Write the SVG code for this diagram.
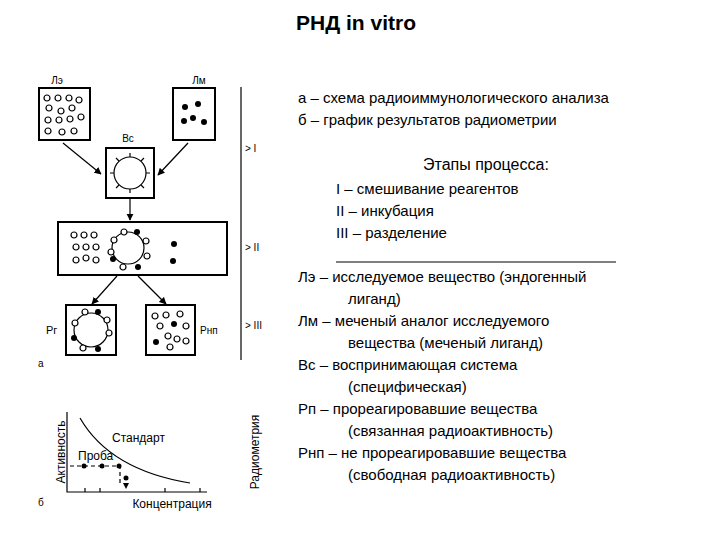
<svg xmlns="http://www.w3.org/2000/svg" width="720" height="540" viewBox="0 0 720 540">
<defs>
<style>
.t{font-family:"Liberation Sans",Arial,sans-serif;fill:#000}
.s{font-family:"Liberation Sans",Arial,sans-serif;font-size:10px;fill:#000}
.g{font-family:"Liberation Sans",Arial,sans-serif;font-size:12px;fill:#000}
.b{fill:#fff;stroke:#000;stroke-width:2}
.o{fill:#fff;stroke:#000;stroke-width:1.2}
.f{fill:#000}
.l{stroke:#000;stroke-width:1.2;fill:none}
</style>
<marker id="a" viewBox="0 0 10 10" refX="9" refY="5" markerWidth="6" markerHeight="6" orient="auto"><path d="M0,0L10,5L0,10z"/></marker>
<g id="o"><circle r="3" class="o"/></g>
<g id="d"><circle r="3" class="f"/></g>
</defs>
<rect width="720" height="540" fill="#fff"/>
<text class="t" x="356" y="30" font-size="21" font-weight="bold" text-anchor="middle">РНД in vitro</text>

<g id="le">
<text class="s" x="57" y="84" text-anchor="middle">Лэ</text>
<rect class="b" x="39" y="88" width="51" height="52"/>
<use href="#o" x="47" y="98"/><use href="#o" x="58" y="98"/><use href="#o" x="69" y="98"/><use href="#o" x="79" y="100"/>
<use href="#o" x="49" y="108"/><use href="#o" x="61" y="111"/><use href="#o" x="72" y="108"/>
<use href="#o" x="48" y="120"/><use href="#o" x="59" y="120"/><use href="#o" x="70" y="119"/><use href="#o" x="81" y="117"/>
<use href="#o" x="48" y="131"/><use href="#o" x="62" y="132"/><use href="#o" x="74" y="131"/>
</g>
<g id="lm">
<text class="s" x="199" y="84" text-anchor="middle">Лм</text>
<rect class="b" x="173" y="88" width="42" height="52"/>
<use href="#d" x="185" y="107"/><use href="#d" x="198" y="104"/><use href="#d" x="184" y="121"/><use href="#d" x="193" y="118"/><use href="#d" x="204" y="122"/>
</g>
<g id="vs">
<text class="s" x="128" y="142" text-anchor="middle">Вс</text>
<rect class="b" x="106" y="148" width="48" height="50"/>
<circle cx="130" cy="173" r="16" class="o"/>
<path class="l" d="M130,157v-4M130,189v4M114,173h-4M146,173h4M119,161l-3,-3M141,161l3,-3M119,185l-3,3M141,185l3,3"/>
</g>
<g id="mix">
<rect class="b" x="58" y="222" width="169" height="53"/>
<use href="#o" x="74" y="235"/><use href="#o" x="84" y="235"/><use href="#o" x="94" y="235"/>
<use href="#o" x="76" y="247"/><use href="#o" x="86" y="247"/><use href="#o" x="96" y="247"/>
<use href="#o" x="76" y="260"/><use href="#o" x="86" y="258"/><use href="#o" x="96" y="260"/>
<circle cx="128" cy="248" r="16" class="o"/>
<use href="#o" x="124" y="232"/><use href="#d" x="137" y="232"/><use href="#o" x="114" y="240"/><use href="#o" x="146" y="241"/>
<use href="#o" x="111" y="252"/><use href="#o" x="147" y="256"/><use href="#d" x="113" y="259"/><use href="#o" x="123" y="267"/><use href="#d" x="138" y="267"/>
<use href="#d" x="174" y="244"/><use href="#d" x="173" y="261"/>
</g>
<g id="rg">
<text class="t" x="46" y="334" font-size="11">Рг</text>
<rect class="b" x="66" y="305" width="50" height="50"/>
<circle cx="91" cy="330" r="17" class="o"/>
<use href="#o" x="85" y="312"/><use href="#d" x="98" y="312"/><use href="#o" x="107" y="320"/><use href="#o" x="109" y="333"/>
<use href="#o" x="75" y="323"/><use href="#d" x="74" y="338"/><use href="#o" x="83" y="348"/><use href="#d" x="98" y="349"/>
</g>
<g id="rnp">
<text class="t" x="200" y="334" font-size="10">Рнп</text>
<rect class="b" x="146" y="305" width="49" height="50"/>
<use href="#o" x="155" y="316"/><use href="#o" x="166" y="315"/><use href="#o" x="180" y="314"/>
<use href="#o" x="160" y="326"/><use href="#d" x="174" y="324"/><use href="#o" x="186" y="326"/>
<use href="#o" x="168" y="336"/><use href="#o" x="177" y="339"/><use href="#o" x="186" y="341"/>
<use href="#d" x="156" y="342"/><use href="#o" x="170" y="347"/>
</g>
<g id="connectors">
<path class="l" d="M63,143L101,174" marker-end="url(#a)"/>
<path class="l" d="M188,143L158,175" marker-end="url(#a)"/>
<path class="l" d="M130,198V220" marker-end="url(#a)"/>
<path class="l" d="M117,276L92,304" marker-end="url(#a)"/>
<path class="l" d="M138,276L166,304" marker-end="url(#a)"/>
</g>
<text class="s" x="38" y="367">а</text>
<path class="l" d="M241,87V360"/>
<text class="s" x="245" y="152">&gt; I</text>
<text class="s" x="245" y="251">&gt; II</text>
<text class="s" x="245" y="329">&gt; III</text>

<g id="graph">
<path class="l" d="M67,412V492H207"/>
<path class="l" d="M85,488v4M100,488v4M165,488v4M200,488v4"/>
<path class="l" d="M80,418Q110,470 190,483"/>
<path class="l" stroke-dasharray="4,3" d="M70,466H120V486"/>
<circle cx="84" cy="466" r="2.5" class="f"/><circle cx="102" cy="466" r="2.5" class="f"/><circle cx="119" cy="466" r="2.5" class="f"/><circle cx="126" cy="478" r="2.5" class="f"/>
<path d="M123,483h6l-3,6z" class="f"/>
<text class="g" x="112" y="442">Стандарт</text>
<text class="g" x="78" y="460">Проба</text>
<text class="g" x="172" y="508" text-anchor="middle">Концентрация</text>
<text class="g" transform="translate(65,452) rotate(-90)" text-anchor="middle">Активность</text>
<text class="g" transform="translate(259,452) rotate(-90)" text-anchor="middle">Радиометрия</text>
<text class="s" x="38" y="506">б</text>
</g>

<g class="t" font-size="15">
<text x="298" y="103">а – схема радиоиммунологического анализа</text>
<text x="298" y="125">б – график результатов радиометрии</text>
<text x="423" y="170" font-size="16">Этапы процесса:</text>
<text x="336" y="194">I – смешивание реагентов</text>
<text x="336" y="216">II – инкубация</text>
<text x="336" y="238">III – разделение</text>
<path d="M336,262H616" stroke="#000" stroke-width="1"/>
<text x="298" y="282">Лэ – исследуемое вещество (эндогенный</text>
<text x="348" y="304">лиганд)</text>
<text x="298" y="326">Лм – меченый аналог исследуемого</text>
<text x="348" y="348">вещества (меченый лиганд)</text>
<text x="298" y="370">Вс – воспринимающая система</text>
<text x="348" y="392">(специфическая)</text>
<text x="298" y="414">Рп – прореагировавшие вещества</text>
<text x="348" y="436">(связанная радиоактивность)</text>
<text x="298" y="458">Рнп – не прореагировавшие вещества</text>
<text x="348" y="480">(свободная радиоактивность)</text>
</g>
</svg>
